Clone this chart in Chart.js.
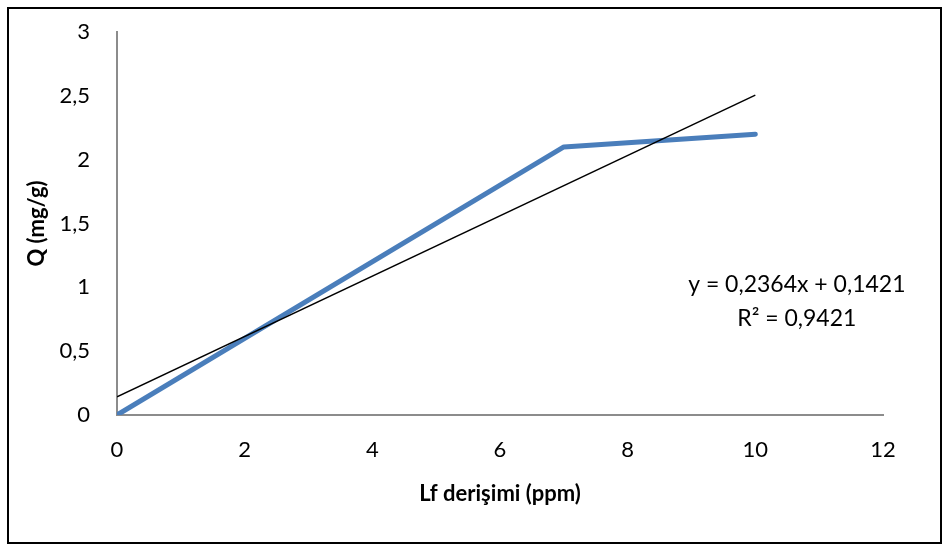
<!DOCTYPE html>
<html>
<head>
<meta charset="utf-8">
<script src="https://cdn.jsdelivr.net/npm/chart.js@4/dist/chart.umd.min.js"></script>
<style>
  html, body { margin: 0; padding: 0; background: #fff; }
  #wrap { width: 944px; height: 545px; position: relative; }
</style>
</head>
<body>
<div id="wrap"><canvas id="c" width="944" height="545"></canvas></div>
<script>
// Data
const concentrations = [0, 7, 10];          // Lf derişimi (ppm)
const qValues = [0, 2.1, 2.2];              // Q (mg/g)
const trendX = [0, 10];
const trendY = [0.1421, 2.5061];            // y = 0,2364x + 0,1421 at x = 0 and 10
const equationLines = ['y = 0,2364x + 0,1421', 'R² = 0,9421'];
const xTitle = 'Lf derişimi (ppm)';
const yTitle = 'Q (mg/g)';

const FONT = 'Lato, "Open Sans", sans-serif';

const borderPlugin = {
  id: 'outerBorder',
  beforeDraw(chart) {
    const ctx = chart.ctx;
    ctx.save();
    ctx.fillStyle = '#fff';
    ctx.fillRect(0, 0, chart.width, chart.height);
    ctx.strokeStyle = '#000';
    ctx.lineWidth = 2;
    ctx.strokeRect(8, 8, 933, 535);
    ctx.restore();
  }
};

const eqPlugin = {
  id: 'equation',
  afterDatasetsDraw(chart) {
    const ctx = chart.ctx;
    const xs = chart.scales.x, ys = chart.scales.y;
    const cx = xs.getPixelForValue(10.65);
    const cy = ys.getPixelForValue(1.02);
    ctx.save();
    ctx.fillStyle = '#000';
    ctx.font = '23px ' + FONT;
    ctx.textAlign = 'center';
    ctx.textBaseline = 'middle';
    ctx.fillText(equationLines[0], cx, cy);
    ctx.fillText(equationLines[1], cx, cy + 34);
    ctx.restore();
  }
};

new Chart(document.getElementById('c'), {
  type: 'scatter',
  data: {
    datasets: [
      {
        label: 'Q',
        data: concentrations.map((x, i) => ({ x, y: qValues[i] })),
        showLine: true,
        borderColor: '#4A7EBB',
        backgroundColor: '#4A7EBB',
        borderWidth: 5,
        pointRadius: 0,
        borderCapStyle: 'round',
        borderJoinStyle: 'round',
        order: 2
      },
      {
        label: 'Trend',
        data: trendX.map((x, i) => ({ x, y: trendY[i] })),
        showLine: true,
        borderColor: '#000',
        borderWidth: 1.5,
        pointRadius: 0,
        order: 1
      }
    ]
  },
  options: {
    responsive: false,
    animation: false,
    devicePixelRatio: 1,
    layout: { padding: { left: 0, right: 61, top: 32, bottom: 0 } },
    plugins: {
      legend: { display: false },
      tooltip: { enabled: false }
    },
    scales: {
      x: {
        type: 'linear',
        min: 0, max: 12,
        ticks: {
          stepSize: 2,
          color: '#000',
          font: { family: FONT, size: 22 },
          padding: 22,
          maxRotation: 0
        },
        grid: { display: false, drawTicks: false },
        border: { display: true, color: '#8C8C8C', width: 2 },
        title: {
          display: true,
          text: xTitle,
          color: '#000',
          font: { family: FONT, size: 22, weight: 'bold' },
          padding: { top: 0, bottom: 38 }
        },
        afterFit(scale) { scale.height = 130; scale.paddingLeft = 0; scale.paddingRight = 0; }
      },
      y: {
        type: 'linear',
        min: 0, max: 3,
        ticks: {
          stepSize: 0.5,
          color: '#000',
          font: { family: FONT, size: 22 },
          padding: 27,
          callback: v => String(v).replace('.', ',')
        },
        grid: { display: false, drawTicks: false },
        border: { display: true, color: '#8C8C8C', width: 2 },
        title: {
          display: true,
          text: yTitle,
          color: '#000',
          font: { family: FONT, size: 22, weight: 'bold' },
          padding: { top: 24, bottom: 0 }
        },
        afterFit(scale) { scale.width = 117; scale.paddingTop = 0; scale.paddingBottom = 0; }
      }
    }
  },
  plugins: [borderPlugin, eqPlugin]
});
</script>
</body>
</html>
